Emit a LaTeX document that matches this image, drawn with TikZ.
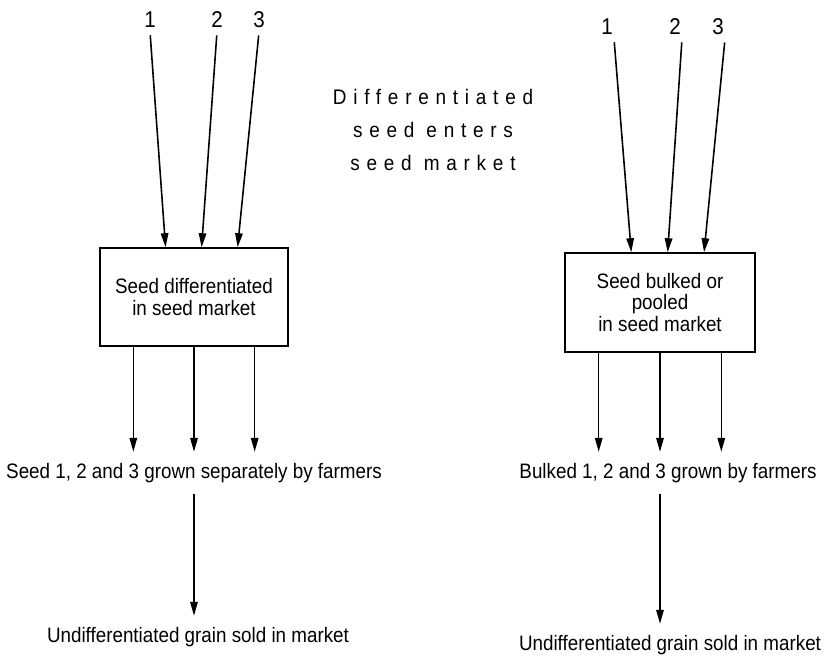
\documentclass[tikz,border=0pt]{standalone}
\usepackage{fontspec}
\setmainfont{Liberation Sans}[FakeStretch=0.9]
\usetikzlibrary{arrows.meta,positioning,calc}
\newcommand{\txtfont}{\fontsize{11.9}{12.5}\selectfont}
\newcommand{\numfont}{\fontsize{13}{14}\selectfont}
\newcommand{\spacedfont}{\fontsize{12}{18.8}\selectfont\addfontfeature{LetterSpace=32}}

\begin{document}
\begin{tikzpicture}[
  seedbox/.style={draw, line width=0.9pt, align=center, font=\txtfont, inner sep=0pt},
  numlbl/.style={font=\numfont, inner sep=2pt},
  stage/.style={font=\txtfont, align=center},
  flow/.style={line width=0.9pt, -{Triangle[length=2.8mm,width=1.5mm]}},
]
\useasboundingbox (0,0) rectangle (16.52,-13.12);

% left: differentiated seed
\node[numlbl] (l1) at (3.00,-0.40) {1};
\node[numlbl] (l2) at (4.34,-0.40) {2};
\node[numlbl] (l3) at (5.18,-0.40) {3};
\node[seedbox, minimum width=3.76cm, minimum height=1.96cm] (dbox) at (3.88,-5.94)
  {Seed differentiated\\in seed market};
\node[stage] (lgrown) at (3.88,-9.46) {Seed 1, 2 and 3 grown separately by farmers};
\node[stage] (lgrain) at (3.96,-12.74) {Undifferentiated grain sold in market};

% right: bulked seed
\node[numlbl] (r1) at (12.14,-0.54) {1};
\node[numlbl] (r2) at (13.50,-0.54) {2};
\node[numlbl] (r3) at (14.36,-0.54) {3};
\node[seedbox, minimum width=3.80cm, minimum height=1.98cm] (bbox) at (13.20,-6.05)
  {Seed bulked or\\pooled\\in seed market};
\node[stage] (rgrown) at (13.36,-9.46) {Bulked 1, 2 and 3 grown by farmers};
\node[stage] (rgrain) at (13.40,-12.90) {Undifferentiated grain sold in market};

\node[align=center, font=\spacedfont] (enters) at (8.66,-2.60)
  {Differentiated\\seed enters\\seed market};

% seed into the market
\foreach \n/\p in {1/0.35,2/0.54,3/0.73} {
  \draw[flow, shorten <=2pt] (l\n.south) -- ($(dbox.north west)!\p!(dbox.north east)$);
  \draw[flow, shorten <=2pt] ([xshift=1.4mm]r\n.south) -- ($(bbox.north west)!\p!(bbox.north east)$);
}

% seed out to the farmers
\foreach \p in {0.18,0.5,0.82} {
  \coordinate (da) at ($(dbox.south west)!\p!(dbox.south east)$);
  \coordinate (ba) at ($(bbox.south west)!\p!(bbox.south east)$);
  \draw[flow, shorten >=3pt] (da) -- (da |- lgrown.north);
  \draw[flow, shorten >=3pt] (ba) -- (ba |- rgrown.north);
}

% grain to market
\draw[flow, shorten <=3pt, shorten >=3pt] (dbox.south |- lgrown.south) -- (dbox.south |- lgrain.north);
\draw[flow, shorten <=3pt, shorten >=3pt] (bbox.south |- rgrown.south) -- (bbox.south |- rgrain.north);
\end{tikzpicture}
\end{document}
